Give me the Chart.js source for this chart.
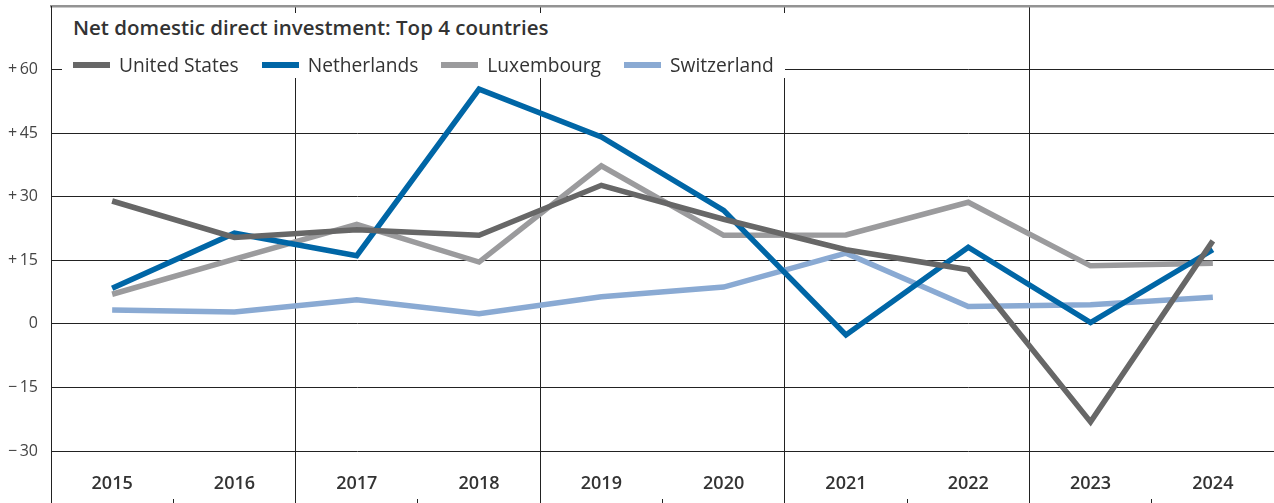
<!DOCTYPE html>
<html>
<head>
<meta charset="utf-8">
<script src="https://cdn.jsdelivr.net/npm/chart.js@4/dist/chart.umd.min.js"></script>
<style>
  html, body { margin: 0; padding: 0; background: #fff; overflow: hidden; }
  #wrap { position: relative; width: 1274px; height: 503px; }
  #legend-box {
    position: absolute; left: 62px; top: 13px; width: 723px; height: 65px;
    background: #fff; font-family: "Open Sans", sans-serif; color: #333;
  }
  #chart-title { position: absolute; left: 11px; top: 0px; font-size: 20.5px; font-weight: 600; white-space: nowrap; }
  #legend { position: absolute; left: 11px; top: 38px; display: flex; font-size: 19.2px; white-space: nowrap; }
  .item { display: flex; align-items: center; margin-right: 23px; }
  .swatch { width: 37px; height: 6px; margin-right: 9px; }
</style>
</head>
<body>
<div id="wrap">
  <canvas id="chart"></canvas>
  <div id="legend-box">
    <div id="chart-title">Net domestic direct investment: Top 4 countries</div>
    <div id="legend"></div>
  </div>
</div>
<script>
// Data
const years = ['2015', '2016', '2017', '2018', '2019', '2020', '2021', '2022', '2023', '2024'];
const unitedStates = [29.0, 20.4, 22.2, 20.9, 32.7, 24.7, 17.5, 12.8, -23.1, 19.6];
const netherlands = [8.4, 21.4, 16.1, 55.4, 44.1, 26.8, -2.6, 18.1, 0.3, 17.5];
const luxembourg = [7.0, 15.3, 23.5, 14.6, 37.3, 20.9, 21.0, 28.7, 13.7, 14.3];
const switzerland = [3.3, 2.8, 5.7, 2.4, 6.4, 8.7, 16.7, 4.1, 4.5, 6.3];
const yTicks = [-30, -15, 0, 15, 30, 45, 60];

const seriesNames = ['United States', 'Netherlands', 'Luxembourg', 'Switzerland'];
const seriesColors = ['#676767', '#0066a6', '#9b9b9d', '#8aaad3'];
const seriesData = [unitedStates, netherlands, luxembourg, switzerland];

// Build html legend
const legendEl = document.getElementById('legend');
seriesNames.forEach((name, i) => {
  const item = document.createElement('div');
  item.className = 'item';
  item.innerHTML = `<span class="swatch" style="background:${seriesColors[i]}"></span><span>${name}</span>`;
  legendEl.appendChild(item);
});

function tickLabel(v) {
  if (v > 0) return '+\u2009' + v;
  if (v < 0) return '\u2212\u2009' + Math.abs(v);
  return '0';
}

const ctx = document.getElementById('chart').getContext('2d');
new Chart(ctx, {
  type: 'line',
  data: {
    labels: years,
    datasets: seriesNames.map((name, i) => ({
      label: name,
      data: seriesData[i],
      borderColor: seriesColors[i],
      backgroundColor: seriesColors[i],
      borderWidth: 5.5,
      pointRadius: 0,
      tension: 0,
      fill: false
    }))
  },
  options: {
    responsive: true,
    maintainAspectRatio: false,
    animation: false,
    layout: { padding: { top: 6, right: 0, bottom: 0, left: 0 } },
    plugins: {
      legend: { display: false },
      title: { display: false },
      tooltip: { enabled: false }
    },
    scales: {
      x: {
        offset: true,
        afterFit: s => { s.height = 4; },
        border: { display: false },
        grid: {
          offset: true,
          drawTicks: true,
          tickLength: 4,
          lineWidth: 1,
          color: c => (c.index !== undefined && c.index % 2 === 0) ? '#222' : 'transparent',
          tickColor: c => (c.index !== undefined) ? '#222' : 'transparent'
        },
        ticks: {
          autoSkip: false,
          maxRotation: 0,
          mirror: true,
          padding: 4,
          color: '#333',
          font: { family: 'Open Sans', size: 18, weight: '600' }
        }
      },
      // grey rule along the top edge of the plot
      xTop: {
        position: 'top',
        offset: true,
        afterFit: s => { s.height = 0; },
        grid: { display: false, drawTicks: false },
        ticks: { display: false },
        border: { display: true, color: '#939393', width: 2.5 }
      },
      y: {
        min: -41.3,
        max: 75,
        afterBuildTicks: s => { s.ticks = yTicks.map(v => ({ value: v })); },
        afterFit: s => { s.width = 51; s.paddingTop = 0; s.paddingBottom = 0; },
        border: { display: true, color: '#222', width: 1 },
        grid: {
          drawTicks: false,
          color: '#222',
          lineWidth: 1
        },
        ticks: {
          padding: 13,
          color: '#444',
          font: { family: 'Open Sans', size: 16 },
          callback: v => tickLabel(v)
        }
      }
    }
  }
});
</script>
</body>
</html>
